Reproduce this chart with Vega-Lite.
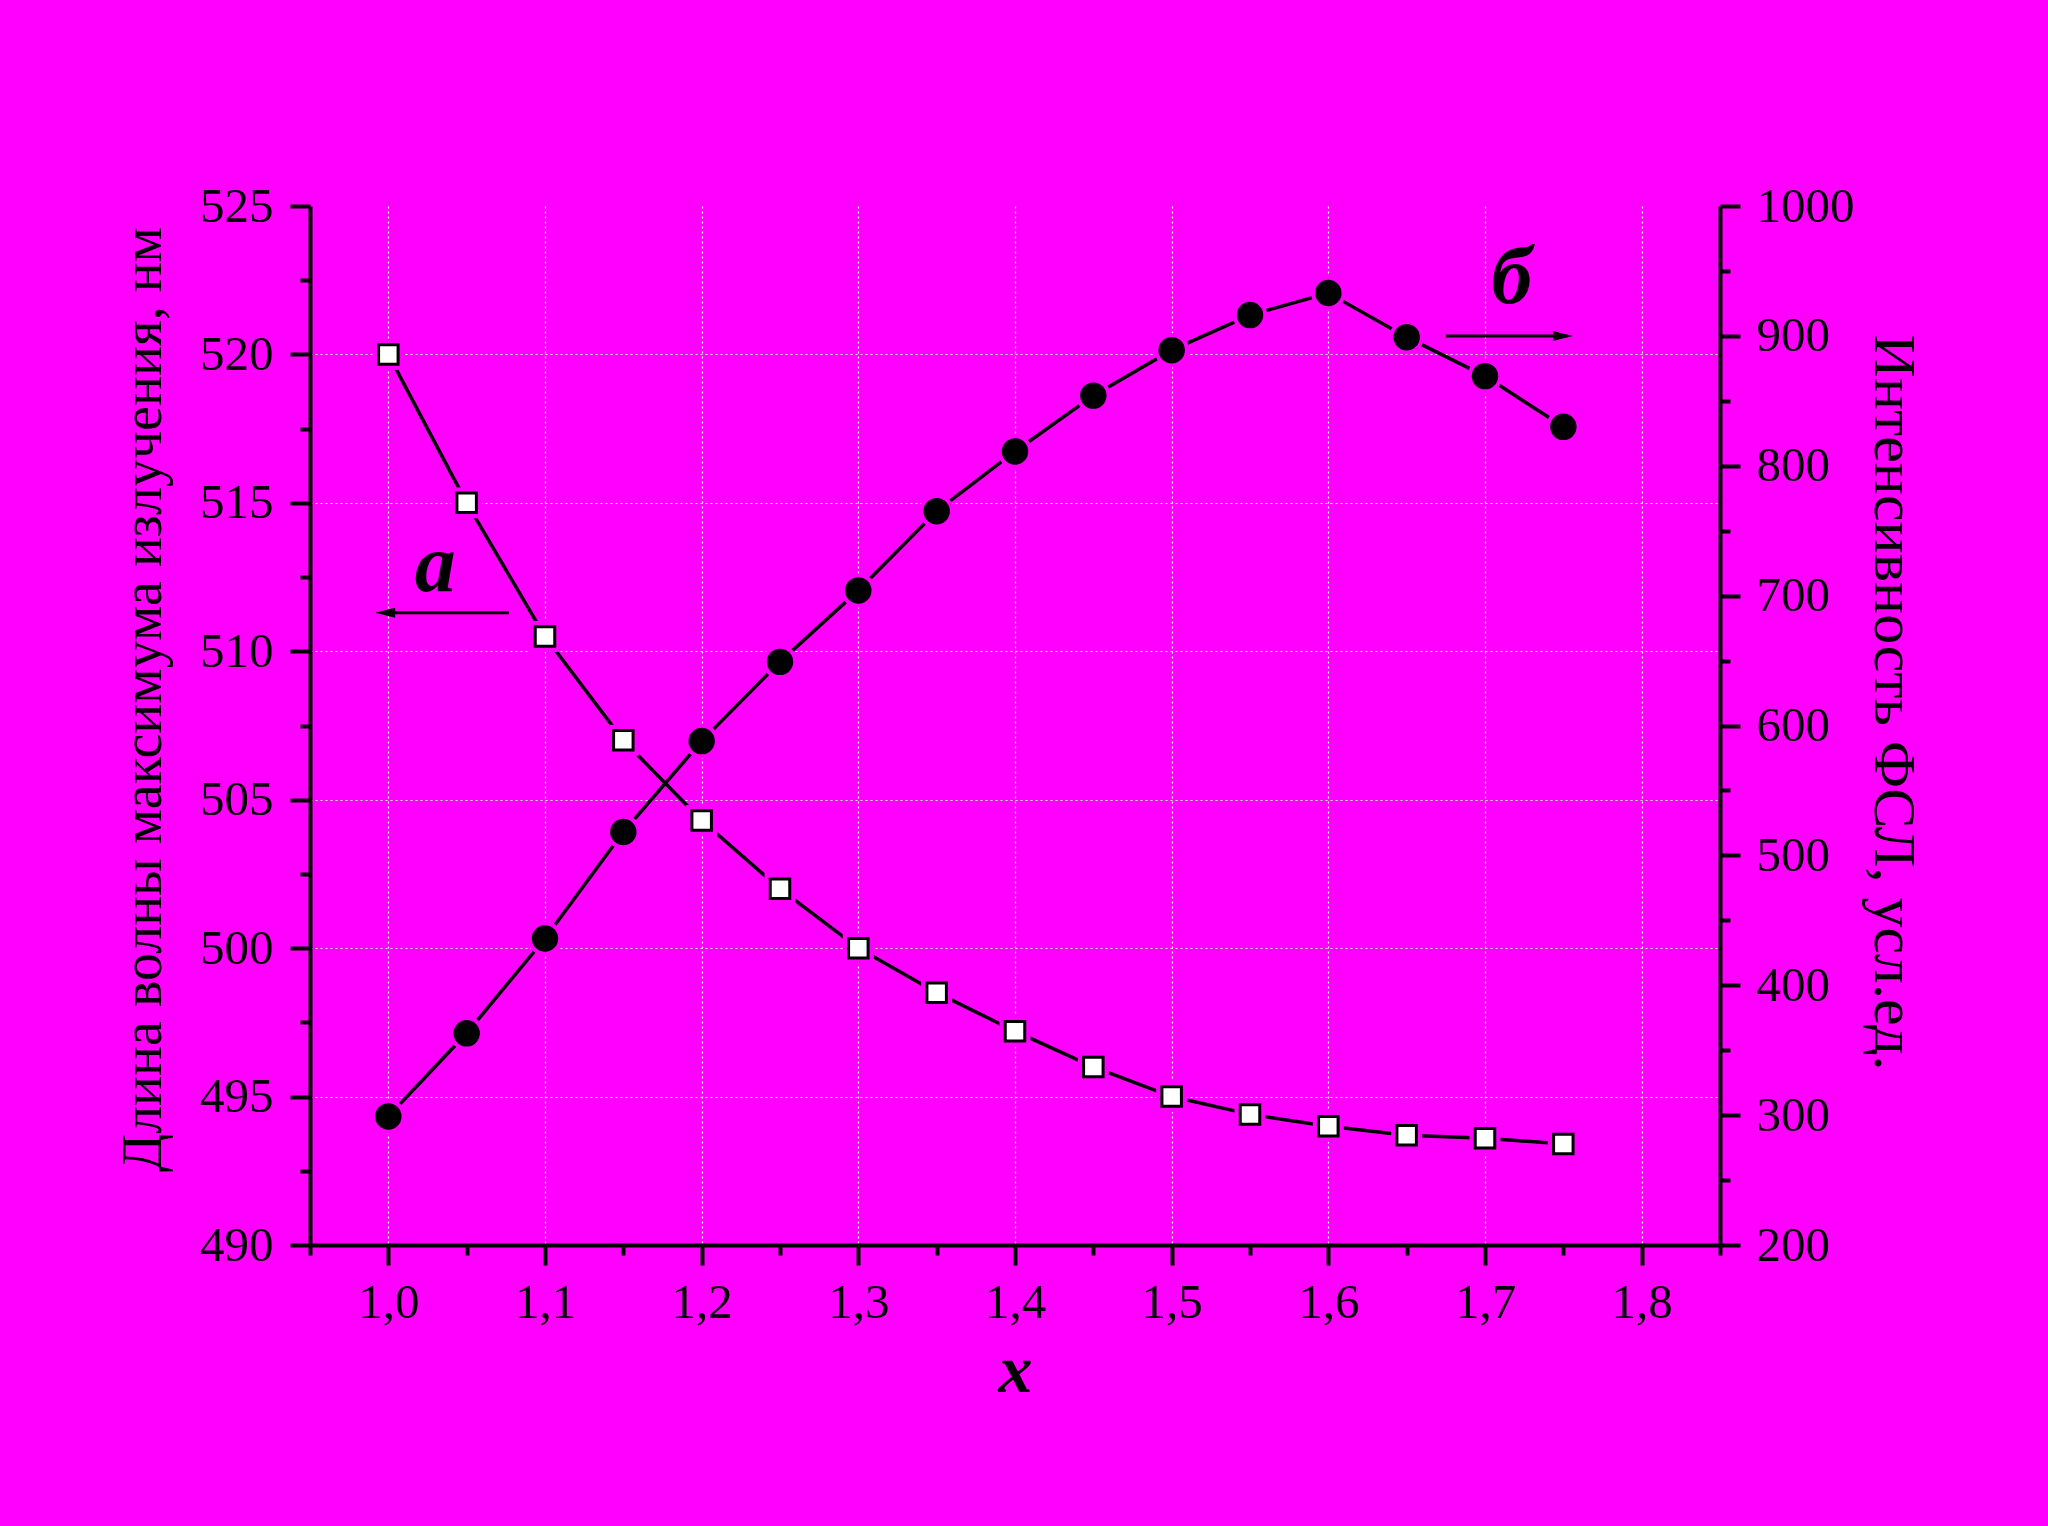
{
  "$schema": "https://vega.github.io/schema/vega-lite/v6.json",
  "width": 1410,
  "height": 1039,
  "autosize": {"type": "none"},
  "padding": {"left": 310, "top": 206, "right": 328, "bottom": 281},
  "background": "#ff00ff",
  "config": {"view": {"stroke": null}, "font": "Liberation Serif"},
  "datasets": {
    "wave": [
      {"x": 1.0, "y": 520.0}, {"x": 1.05, "y": 515.0}, {"x": 1.1, "y": 510.5}, {"x": 1.15, "y": 507.0},
      {"x": 1.2, "y": 504.3}, {"x": 1.25, "y": 502.0}, {"x": 1.3, "y": 500.0}, {"x": 1.35, "y": 498.5},
      {"x": 1.4, "y": 497.2}, {"x": 1.45, "y": 496.0}, {"x": 1.5, "y": 495.0}, {"x": 1.55, "y": 494.4},
      {"x": 1.6, "y": 494.0}, {"x": 1.65, "y": 493.7}, {"x": 1.7, "y": 493.6}, {"x": 1.75, "y": 493.4}
    ],
    "intensity": [
      {"x": 1.0, "y": 299}, {"x": 1.05, "y": 363}, {"x": 1.1, "y": 436}, {"x": 1.15, "y": 518},
      {"x": 1.2, "y": 588}, {"x": 1.25, "y": 649}, {"x": 1.3, "y": 704}, {"x": 1.35, "y": 765},
      {"x": 1.4, "y": 811}, {"x": 1.45, "y": 854}, {"x": 1.5, "y": 889}, {"x": 1.55, "y": 916},
      {"x": 1.6, "y": 933}, {"x": 1.65, "y": 899}, {"x": 1.7, "y": 869}, {"x": 1.75, "y": 830}
    ],
    "arrows": [
      {"x": 1.0, "x2": 1.077, "y": 511.3},
      {"x": 1.675, "x2": 1.745, "y": 520.62}
    ],
    "heads": [
      {"x": 0.998, "y": 511.3, "dir": "left"},
      {"x": 1.7498, "y": 520.62, "dir": "right"}
    ],
    "labels": [
      {"x": 1.03, "y": 512.03, "t": "а"},
      {"x": 1.717, "y": 521.73, "t": "б"}
    ]
  },
  "layer": [
    {
      "layer": [
        {
          "data": {"name": "wave"},
          "mark": {"type": "line", "color": "black", "strokeWidth": 3.5},
          "encoding": {
            "x": {
              "field": "x", "type": "quantitative", "title": "x",
              "scale": {"domain": [0.95, 1.85], "nice": false, "zero": false},
              "axis": {
                "title": "x",
                "titleFont": "Liberation Serif", "titleFontSize": 68, "titleFontStyle": "italic", "titleFontWeight": "bold", "titleColor": "black",
                "titleY": 146, "titleBaseline": "alphabetic",
                "values": [0.95, 1.0, 1.05, 1.1, 1.15, 1.2, 1.25, 1.3, 1.35, 1.4, 1.45, 1.5, 1.55, 1.6, 1.65, 1.7, 1.75, 1.8, 1.85],
                "labelExpr": "round(datum.value*20)%2==0 ? replace(format(datum.value,'.1f'),'.',',') : ''",
                "labelFont": "Liberation Serif", "labelFontSize": 49, "labelColor": "black", "labelPadding": 13,
                "labelFlush": false, "labelOverlap": false,
                "domainColor": "black", "domainWidth": 4,
                "tickColor": "black", "tickWidth": 4,
                "tickSize": {"condition": {"test": "round(datum.value*20)%2==0", "value": 20}, "value": 10},
                "grid": true, "gridColor": "#d8ffd8", "gridDash": [2, 3], "gridWidth": 1.2,
                "gridOpacity": {"condition": {"test": "round(datum.value*20)%2==0 && datum.value>0.97 && datum.value<1.83", "value": 1}, "value": 0}
              }
            },
            "y": {
              "field": "y", "type": "quantitative", "title": "Длина волны максимума излучения, нм",
              "scale": {"domain": [490, 525], "nice": false, "zero": false},
              "axis": {
                "orient": "left",
                "title": "Длина волны максимума излучения, нм",
                "titleFont": "Liberation Serif", "titleFontSize": 56, "titleFontWeight": "normal", "titleColor": "black",
                "titleX": -167, "titleY": 493, "titleBaseline": "middle", "titleAngle": -90,
                "values": [490, 492.5, 495, 497.5, 500, 502.5, 505, 507.5, 510, 512.5, 515, 517.5, 520, 522.5, 525],
                "labelExpr": "datum.value % 5 == 0 ? format(datum.value,'d') : ''",
                "labelFont": "Liberation Serif", "labelFontSize": 49, "labelColor": "black", "labelPadding": 17,
                "labelFlush": false, "labelOverlap": false,
                "domainColor": "black", "domainWidth": 4,
                "tickColor": "black", "tickWidth": 4,
                "tickSize": {"condition": {"test": "datum.value % 5 == 0", "value": 20}, "value": 10},
                "grid": true, "gridColor": "#d8ffd8", "gridDash": [2, 3], "gridWidth": 1.2,
                "gridOpacity": {"condition": {"test": "datum.value % 5 == 0 && datum.value > 491 && datum.value < 524", "value": 1}, "value": 0}
              }
            }
          }
        },
        {
          "data": {"name": "wave"},
          "mark": {"type": "point", "shape": "square", "filled": true, "color": "#ff00ff", "opacity": 1, "size": 961},
          "encoding": {
            "x": {"field": "x", "type": "quantitative", "title": "x"},
            "y": {"field": "y", "type": "quantitative", "title": "Длина волны максимума излучения, нм"}
          }
        },
        {
          "data": {"name": "wave"},
          "mark": {"type": "point", "shape": "square", "filled": true, "fill": "white", "stroke": "black", "strokeWidth": 3, "opacity": 1, "size": 380},
          "encoding": {
            "x": {"field": "x", "type": "quantitative", "title": "x"},
            "y": {"field": "y", "type": "quantitative", "title": "Длина волны максимума излучения, нм"}
          }
        },
        {
          "data": {"name": "arrows"},
          "mark": {"type": "rule", "color": "black", "strokeWidth": 3},
          "encoding": {
            "x": {"field": "x", "type": "quantitative", "title": "x"},
            "x2": {"field": "x2"},
            "y": {"field": "y", "type": "quantitative", "title": "Длина волны максимума излучения, нм"}
          }
        },
        {
          "data": {"name": "heads"},
          "mark": {"type": "point", "filled": true, "color": "black", "opacity": 1, "size": 400},
          "encoding": {
            "x": {"field": "x", "type": "quantitative", "title": "x"},
            "y": {"field": "y", "type": "quantitative", "title": "Длина волны максимума излучения, нм"},
            "shape": {"field": "dir", "type": "nominal", "legend": null,
              "scale": {"domain": ["left", "right"], "range": ["M-1,0L1,-0.5L1,0.5Z", "M1,0L-1,-0.5L-1,0.5Z"]}}
          }
        },
        {
          "data": {"name": "labels"},
          "mark": {"type": "text", "font": "Liberation Serif", "fontSize": 82, "fontStyle": "italic", "fontWeight": "bold", "color": "black", "align": "center", "baseline": "alphabetic"},
          "encoding": {
            "x": {"field": "x", "type": "quantitative", "title": "x"},
            "y": {"field": "y", "type": "quantitative", "title": "Длина волны максимума излучения, нм"},
            "text": {"field": "t"}
          }
        }
      ]
    },
    {
      "layer": [
        {
          "data": {"name": "intensity"},
          "mark": {"type": "line", "color": "black", "strokeWidth": 3.5},
          "encoding": {
            "x": {"field": "x", "type": "quantitative", "title": "x"},
            "y": {
              "field": "y", "type": "quantitative", "title": "Интенсивность ФСЛ, усл.ед.",
              "scale": {"domain": [200, 1000], "nice": false, "zero": false},
              "axis": {
                "orient": "right",
                "title": "Интенсивность ФСЛ, усл.ед.",
                "titleFont": "Liberation Serif", "titleFontSize": 60, "titleFontWeight": "normal", "titleColor": "black",
                "titleX": 172, "titleY": 496, "titleBaseline": "middle", "titleAngle": 90,
                "values": [200, 250, 300, 350, 400, 450, 500, 550, 600, 650, 700, 750, 800, 850, 900, 950, 1000],
                "labelExpr": "datum.value % 100 == 0 ? format(datum.value,'d') : ''",
                "labelFont": "Liberation Serif", "labelFontSize": 49, "labelColor": "black", "labelPadding": 16,
                "labelFlush": false, "labelOverlap": false,
                "domainColor": "black", "domainWidth": 4,
                "tickColor": "black", "tickWidth": 4,
                "tickSize": {"condition": {"test": "datum.value % 100 == 0", "value": 20}, "value": 10},
                "grid": false
              }
            }
          }
        },
        {
          "data": {"name": "intensity"},
          "mark": {"type": "point", "shape": "circle", "filled": true, "color": "#ff00ff", "opacity": 1, "size": 1190},
          "encoding": {
            "x": {"field": "x", "type": "quantitative", "title": "x"},
            "y": {"field": "y", "type": "quantitative", "title": "Интенсивность ФСЛ, усл.ед."}
          }
        },
        {
          "data": {"name": "intensity"},
          "mark": {"type": "point", "shape": "circle", "filled": true, "color": "black", "opacity": 1, "size": 700},
          "encoding": {
            "x": {"field": "x", "type": "quantitative", "title": "x"},
            "y": {"field": "y", "type": "quantitative", "title": "Интенсивность ФСЛ, усл.ед."}
          }
        }
      ]
    }
  ],
  "resolve": {"scale": {"y": "independent"}}
}
